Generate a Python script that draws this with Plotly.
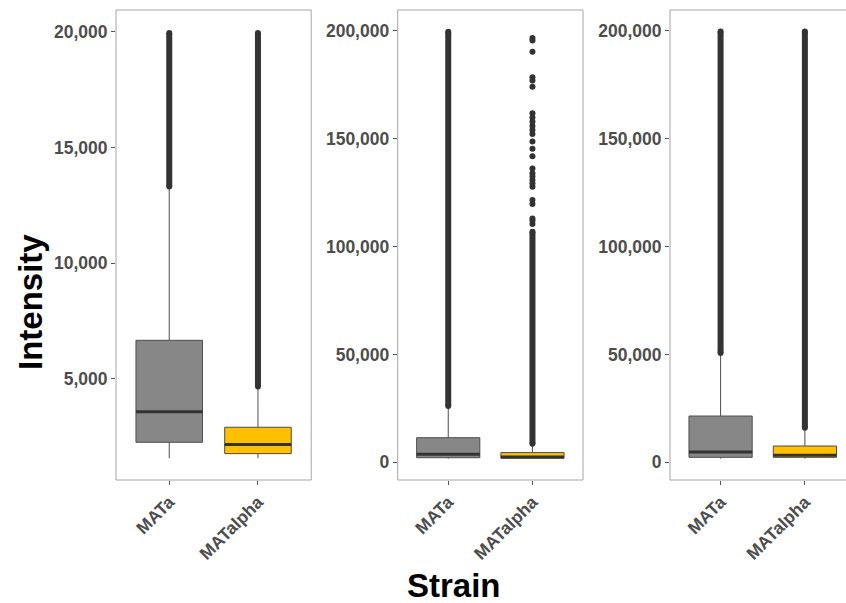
import plotly.graph_objects as go

# ---------------- data ----------------
categories = ["MATa", "MATalpha"]
box_colors = ["#878787", "#FFC000"]

# Panel 1 (0 - 20,000)
p1_q1 = [2250, 1760]
p1_median = [3570, 2150]
p1_q3 = [6660, 2900]
p1_lower = [1560, 1560]
p1_upper = [13250, 4600]
p1_out_low = [13310, 4660]
p1_out_high = [19950, 19950]
p1_sparse = [[], []]

# Panel 2 (0 - 200,000)
p2_q1 = [2130, 1900]
p2_median = [3700, 2500]
p2_q3 = [11400, 4500]
p2_lower = [1700, 1700]
p2_upper = [25800, 8300]
p2_out_low = [26100, 8600]
p2_out_high = [199500, 106800]
p2_sparse = [[], [110400, 112000, 113000, 119700, 121500, 127700, 129300, 130800,
                  132400, 133900, 136200, 141800, 145300, 148700, 152100, 154000,
                  155800, 157800, 159800, 161700, 174000, 176900, 178400, 190300,
                  195500, 196600]]

# Panel 3 (0 - 200,000)
p3_q1 = [2300, 2300]
p3_median = [4770, 3240]
p3_q3 = [21450, 7550]
p3_lower = [1700, 1700]
p3_upper = [49800, 15500]
p3_out_low = [50650, 16000]
p3_out_high = [199600, 199600]
p3_sparse = [[], []]

p1_ticks = [5000, 10000, 15000, 20000]
p23_ticks = [0, 50000, 100000, 150000, 200000]

# ---------------- figure ----------------
W, H = 846, 603
FONT = "Liberation Sans, Arial, sans-serif"
tick_font = dict(family=FONT, size=17.5, color="#4d4d4d", weight="bold")
BOX_W = 0.75

panels = [
    dict(q1=p1_q1, med=p1_median, q3=p1_q3, lo=p1_lower, hi=p1_upper,
         olo=p1_out_low, ohi=p1_out_high, sp=p1_sparse,
         xd=[116 / W, 311.2 / W], xr=[-0.6, 1.6], yr=[620, 20940], ticks=p1_ticks),
    dict(q1=p2_q1, med=p2_median, q3=p2_q3, lo=p2_lower, hi=p2_upper,
         olo=p2_out_low, ohi=p2_out_high, sp=p2_sparse,
         xd=[397.7 / W, 583 / W], xr=[-0.6, 1.6], yr=[-8200, 209600], ticks=p23_ticks),
    dict(q1=p3_q1, med=p3_median, q3=p3_q3, lo=p3_lower, hi=p3_upper,
         olo=p3_out_low, ohi=p3_out_high, sp=p3_sparse,
         xd=[670 / W, 1.0], xr=[-0.6, (W - 670) / 84.3 - 0.6], yr=[-8200, 209600], ticks=p23_ticks),
]

fig = go.Figure()
ydom = [1 - 480 / H, 1 - 10 / H]
shapes = []

for pi, p in enumerate(panels):
    n = pi + 1
    xa = "x" if n == 1 else f"x{n}"
    ya = "y" if n == 1 else f"y{n}"
    for ci, cat in enumerate(categories):
        fig.add_trace(go.Box(
            x=[ci], q1=[p["q1"][ci]], median=[p["med"][ci]], q3=[p["q3"][ci]],
            lowerfence=[p["lo"][ci]], upperfence=[p["hi"][ci]],
            width=BOX_W, whiskerwidth=0, boxpoints=False,
            fillcolor=box_colors[ci], line=dict(color="#4d4d4d", width=1),
            xaxis=xa, yaxis=ya, showlegend=False, hoverinfo="skip"))
        # thick median line
        fig.add_trace(go.Scatter(
            x=[ci - BOX_W / 2, ci + BOX_W / 2], y=[p["med"][ci]] * 2, mode="lines",
            line=dict(color="#333333", width=3), xaxis=xa, yaxis=ya,
            showlegend=False, hoverinfo="skip"))
        # dense outlier column
        fig.add_trace(go.Scatter(
            x=[ci, ci], y=[p["olo"][ci], p["ohi"][ci]], mode="lines+markers",
            line=dict(color="#333333", width=6), marker=dict(color="#333333", size=6),
            xaxis=xa, yaxis=ya, showlegend=False, hoverinfo="skip", cliponaxis=False))
        if p["sp"][ci]:
            fig.add_trace(go.Scatter(
                x=[ci] * len(p["sp"][ci]), y=p["sp"][ci], mode="markers",
                marker=dict(color="#333333", size=6), xaxis=xa, yaxis=ya,
                showlegend=False, hoverinfo="skip"))
    xkey = "xaxis" if n == 1 else f"xaxis{n}"
    ykey = "yaxis" if n == 1 else f"yaxis{n}"
    fig.update_layout({
        xkey: dict(domain=p["xd"], range=p["xr"], anchor=ya, tickmode="array",
                   tickvals=[0, 1], ticktext=categories, tickangle=-45,
                   ticks="outside", ticklen=4, tickcolor="#555555", tickwidth=1,
                   showgrid=False, zeroline=False, showline=False, tickfont=tick_font),
        ykey: dict(domain=ydom, range=p["yr"], anchor=xa, tickmode="array",
                   tickvals=p["ticks"], ticktext=[f"{v:,}" for v in p["ticks"]],
                   ticks="outside", ticklen=4, tickcolor="#555555", tickwidth=1,
                   showgrid=False, zeroline=False, showline=False, tickfont=tick_font),
    })
    shapes.append(dict(type="rect", xref=f"{xa} domain", yref=f"{ya} domain",
                       x0=0, x1=1 if n < 3 else 1.1, y0=0, y1=1,
                       line=dict(color="#a6a6a6", width=1), layer="above"))

fig.update_layout(
    width=W, height=H, margin=dict(l=0, r=0, t=0, b=0),
    paper_bgcolor="white", plot_bgcolor="white", shapes=shapes,
    annotations=[
        dict(text="Intensity", x=30 / W, y=1 - 302 / H, xref="paper", yref="paper",
             textangle=-90, showarrow=False, xanchor="center", yanchor="middle",
             font=dict(family=FONT, size=33, color="black", weight="bold")),
        dict(text="Strain", x=454 / W, y=1 - 585 / H, xref="paper", yref="paper",
             showarrow=False, xanchor="center", yanchor="middle",
             font=dict(family=FONT, size=33, color="black", weight="bold")),
    ],
)

fig.write_html("out.html", config={"displayModeBar": False},
               post_script="document.body.style.margin='0';document.body.style.overflow='hidden';")
